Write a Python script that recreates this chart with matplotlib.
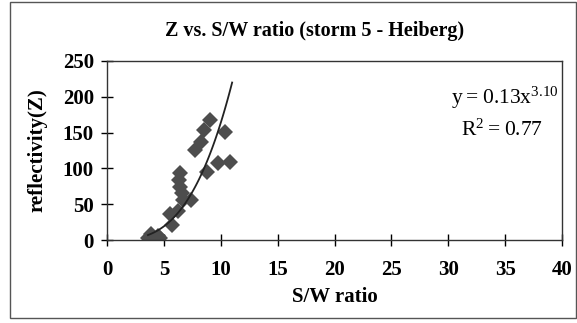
import numpy as np
import matplotlib.pyplot as plt
from matplotlib.patches import Rectangle

plt.rcParams['font.family'] = ['Liberation Serif', 'DejaVu Serif']
plt.rcParams['mathtext.fontset'] = 'custom'
plt.rcParams['mathtext.rm'] = 'Liberation Serif'

# S/W ratio and reflectivity for storm 5
sw_ratio = [3.6, 3.9, 4.5, 4.7, 5.5, 5.7, 6.2, 6.3, 6.4, 6.4, 6.6, 6.7, 7.4,
            7.7, 8.3, 8.5, 8.8, 9.05, 9.8, 10.4, 10.8]
refl = [3, 9, 5, 3, 37, 21, 40, 84, 93, 74, 65, 56, 56,
        126, 137, 154, 95, 167, 107, 151, 109]

# power fit y = a * x^b
fit_a = 0.13
fit_b = 3.10
fit_r2 = 0.77
fit_x = np.linspace(3.6, 11, 100)
fit_y = fit_a * fit_x ** fit_b

fig = plt.figure(figsize=(5.77, 3.23), dpi=100)
ax = fig.add_axes([107 / 577, 1 - 240 / 323, 455 / 577, 179 / 323])

ax.plot(sw_ratio, refl, 'D', color='#4d4d4d', markersize=8.5, markeredgewidth=0)
ax.plot(fit_x, fit_y, color='#222222', linewidth=1.3)

ax.set_xlim(0, 40)
ax.set_ylim(0, 250)
ax.set_xticks(range(0, 41, 5))
ax.set_yticks(range(0, 251, 50))
ax.tick_params(direction='inout', length=9, width=1, labelsize=15)
ax.tick_params(axis='x', pad=10)
ax.tick_params(axis='y', pad=5)
for lab in ax.get_xticklabels() + ax.get_yticklabels():
    lab.set_fontweight('bold')
for sp in ax.spines.values():
    sp.set_linewidth(1)
    sp.set_color('#333333')

ax.set_xlabel('S/W ratio', fontsize=15, fontweight='bold', labelpad=5)
ax.set_ylabel('reflectivity(Z)', fontsize=15, fontweight='bold', labelpad=11)
fig.text(315 / 577, 1 - 31 / 323, 'Z vs. S/W ratio (storm 5 - Heiberg)',
         fontsize=14.5, fontweight='bold', ha='center', va='center')

ax.text(505 / 577, 1 - 98 / 323, r'$\mathregular{y = %.2fx^{%.2f}}$' % (fit_a, fit_b),
        transform=fig.transFigure, fontsize=15.5, ha='center', va='center')
ax.text(502 / 577, 1 - 130 / 323, r'$\mathregular{R^2 = %.2f}$' % fit_r2,
        transform=fig.transFigure, fontsize=15.5, ha='center', va='center')

# outer chart border
fig.patches.append(Rectangle((10 / 577, 5 / 323), 566 / 577, 316 / 323,
                             transform=fig.transFigure, fill=False,
                             edgecolor='#555555', linewidth=1))

fig.savefig('out.png', dpi=100)
